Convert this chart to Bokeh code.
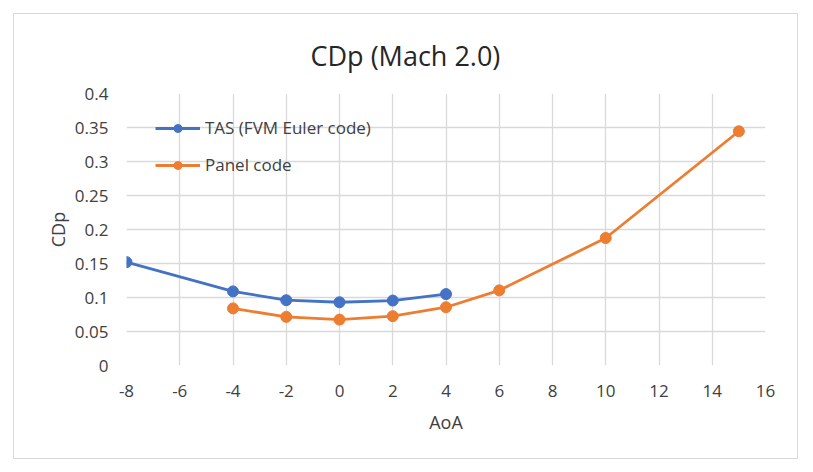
from bokeh.plotting import figure
from bokeh.models import FixedTicker, Range1d, Legend, LegendItem
from bokeh.embed import file_html
from bokeh.resources import INLINE

# ---- data ----
tas_aoa = [-8, -4, -2, 0, 2, 4]
tas_cdp = [0.152, 0.109, 0.096, 0.093, 0.0955, 0.105]
panel_aoa = [-4, -2, 0, 2, 4, 6, 10, 15]
panel_cdp = [0.084, 0.0715, 0.0675, 0.0725, 0.0857, 0.1105, 0.1875, 0.3445]
x_ticks = [-8, -6, -4, -2, 0, 2, 4, 6, 8, 10, 12, 14, 16]
x_tick_labels = ["-8", "-6", "-4", "-2", "0", "2", "4", "6", "8", "10", "12", "14", "16"]
y_ticks = [0, 0.05, 0.1, 0.15, 0.2, 0.25, 0.3, 0.35, 0.4]
y_tick_labels = ["0", "0.05", "0.1", "0.15", "0.2", "0.25", "0.3", "0.35", "0.4"]
title_text = "CDp (Mach 2.0)"
series_names = ["TAS (FVM Euler code)", "Panel code"]

FONT = "Open Sans"
BLUE = "#4472C4"
ORANGE = "#ED7D31"
GRID = "#D9D9D9"
TXT = "#404040"

p = figure(width=785, height=446, output_backend="svg", toolbar_location=None,
           x_range=Range1d(-8, 16), y_range=Range1d(0, 0.4),
           min_border_left=112, min_border_right=34, min_border_top=79, min_border_bottom=95,
           styles={"margin-left": "13px", "margin-top": "13px", "border": "1px solid #D9D9D9"})
p.outline_line_color = None
p.background_fill_color = "white"
p.border_fill_color = "white"

p.title.text = title_text
p.title.align = "left"
p.title.offset = 184
p.title.standoff = 40
p.title.text_font = FONT
p.title.text_font_size = "27px"
p.title.text_font_style = "normal"
p.title.text_color = "#262626"

for ax in (p.xaxis[0], p.yaxis[0]):
    ax.axis_line_color = None
    ax.major_tick_line_color = None
    ax.minor_tick_line_color = None
    ax.major_label_text_font = FONT
    ax.major_label_text_font_size = "17px"
    ax.major_label_text_color = TXT
    ax.axis_label_text_font = FONT
    ax.axis_label_text_font_size = "18px"
    ax.axis_label_text_font_style = "normal"
    ax.axis_label_text_color = TXT

p.xaxis.ticker = FixedTicker(ticks=x_ticks)
p.yaxis.ticker = FixedTicker(ticks=y_ticks)
p.xaxis.major_label_overrides = {t: l for t, l in zip(x_ticks, x_tick_labels)}
p.yaxis.major_label_overrides = {t: l for t, l in zip(y_ticks, y_tick_labels)}
p.xaxis.axis_label = "AoA"
p.yaxis.axis_label = "CDp"
p.xaxis.major_label_standoff = 13
p.xaxis.axis_label_standoff = 10
p.yaxis.major_label_standoff = 12
p.yaxis.axis_label_standoff = 2

p.xgrid.grid_line_color = GRID
p.ygrid.grid_line_color = GRID
p.xgrid.grid_line_width = 1.3
p.ygrid.grid_line_width = 1.3

l1 = p.line(tas_aoa, tas_cdp, line_color=BLUE, line_width=2.8)
c1 = p.scatter(tas_aoa, tas_cdp, size=11, fill_color=BLUE, line_color=BLUE)
l2 = p.line(panel_aoa, panel_cdp, line_color=ORANGE, line_width=2.8)
c2 = p.scatter(panel_aoa, panel_cdp, size=11, fill_color=ORANGE, line_color=ORANGE)

legend = Legend(items=[LegendItem(label=series_names[0], renderers=[l1, c1]),
                       LegendItem(label=series_names[1], renderers=[l2, c2])],
                location=(29, 189), orientation="vertical")
legend.border_line_color = None
legend.background_fill_alpha = 0
legend.padding = 0
legend.margin = 0
legend.spacing = 14
legend.glyph_width = 45
legend.glyph_height = 20
legend.label_height = 20
legend.label_standoff = 5
legend.label_text_font = FONT
legend.label_text_font_size = "17px"
legend.label_text_color = TXT
p.add_layout(legend)

open("out.html", "w").write(file_html(p, INLINE))
